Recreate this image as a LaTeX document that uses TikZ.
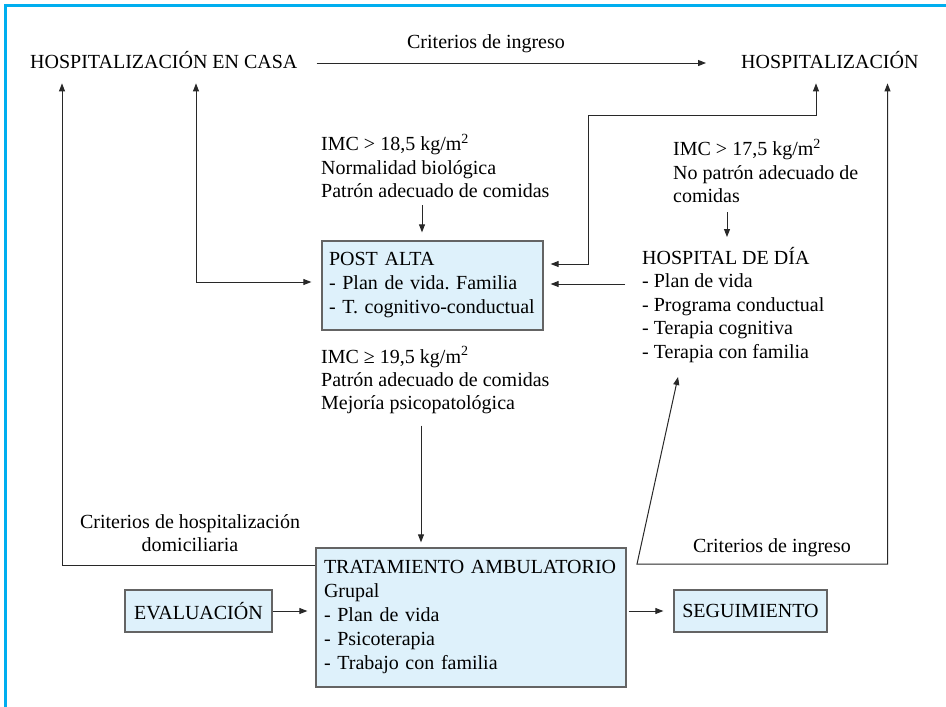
\documentclass[tikz,border=0pt]{standalone}
\usepackage{fontspec}
\setmainfont{Liberation Serif}
\usetikzlibrary{arrows.meta}
\definecolor{frameblue}{RGB}{0,174,239}
\definecolor{boxfill}{RGB}{222,241,251}
\definecolor{boxline}{RGB}{100,100,100}
\definecolor{lin}{RGB}{40,40,40}
\frenchspacing
\begin{document}
\begin{tikzpicture}[x=1pt,y=-1pt,
  txt/.style={inner sep=0pt, font=\fontsize{20}{23.5}\selectfont, text=black},
  mtxt/.style={txt, align=left},
  boxn/.style={draw=boxline, line width=1.3pt, fill=boxfill, font=\fontsize{20}{24}\selectfont, align=left, inner xsep=7pt, inner ysep=0pt},
  con/.style={draw=lin, line width=1pt},
  arr/.style={con, -{Triangle[length=8pt,width=6pt]}},
  darr/.style={con, {Triangle[length=8pt,width=6pt]}-{Triangle[length=8pt,width=6pt]}},
]
\useasboundingbox (0,0) rectangle (946,707);
\fill[white] (0,0) rectangle (946,707);
\draw[frameblue, line width=3pt] (5.5,707) -- (5.5,5) -- (946,5);

\node[txt, anchor=base west] (hec) at (30,68) {HOSPITALIZACIÓN EN CASA};
\node[txt, anchor=base west] (hosp) at (741,68) {HOSPITALIZACIÓN};
\node[txt, anchor=base] (ci1) at (486,48) {Criterios de ingreso};

\node[mtxt, anchor=north west] (c1) at (321,134) {IMC > 18,5 kg/m\textsuperscript{2}\\Normalidad biológica\\Patrón adecuado de comidas};
\node[boxn, minimum width=221pt, minimum height=89pt, text width=207pt] (post) at (432.5,285.5) {POST ALTA\\- Plan de vida. Familia\\- T. cognitivo-conductual};
\node[mtxt, anchor=north west] (c2) at (673,139) {IMC > 17,5 kg/m\textsuperscript{2}\\No patrón adecuado de\\comidas};
\node[mtxt, anchor=north west] (hdd) at (642,247) {HOSPITAL DE DÍA\\- Plan de vida\\- Programa conductual\\- Terapia cognitiva\\- Terapia con familia};
\node[mtxt, anchor=north west] (c3) at (321,346) {IMC ≥ 19,5 kg/m\textsuperscript{2}\\Patrón adecuado de comidas\\Mejoría psicopatológica};
\node[boxn, minimum width=310pt, minimum height=139pt, text width=294pt, inner xsep=8pt] (amb) at (471,617.5) {TRATAMIENTO AMBULATORIO\\Grupal\\- Plan de vida\\- Psicoterapia\\- Trabajo con familia};
\node[boxn, minimum width=147pt, minimum height=42pt, align=center] (eval) at (198.5,611) {EVALUACIÓN};
\node[boxn, minimum width=153pt, minimum height=42pt, align=center] (seg) at (750.5,611) {SEGUIMIENTO};
\node[txt, align=center, anchor=north] (chd) at (190,514) {Criterios de hospitalización\\domiciliaria};
\node[txt, anchor=base] (ci2) at (772,552) {Criterios de ingreso};

% connectors
\draw[arr, shorten <=19pt, shorten >=35pt] (hec.east |- 0,63) -- (hosp.west |- 0,63);
\draw[arr, shorten >=15pt] (amb.west |- 0,565) -| (62,0 |- hec.south);
\draw[darr, shorten <=10pt, shorten >=15pt] (post.west |- 0,282) -| (196,0 |- hec.south);
\draw[darr, shorten <=7pt, shorten >=15pt] (post.east |- 0,264) -- (588,264) -- (588,115) -| (816,0 |- hosp.south);
\draw[arr, shorten <=17pt, shorten >=7pt] (hdd.west |- 0,284) -- (post.east |- 0,284);
\draw[arr, shorten <=7pt, shorten >=8pt] (422,0 |- c1.south) -- (422,0 |- post.north);
\draw[arr, shorten <=9pt, shorten >=10pt] (727,0 |- c2.south) -- (727,0 |- hdd.north);
\draw[arr, shorten <=11pt, shorten >=5pt] (421,0 |- c3.south) -- (421,0 |- amb.north);
\draw[arr, shorten >=8pt] (eval.east) -- (amb.west |- eval.east);
\draw[arr, shorten <=2pt, shorten >=10pt] (amb.east |- seg.west) -- (seg.west);
\draw[darr, shorten >=15pt] (678,377) -- (637,564) -| (887.5,0 |- hosp.south);
\end{tikzpicture}
\end{document}
